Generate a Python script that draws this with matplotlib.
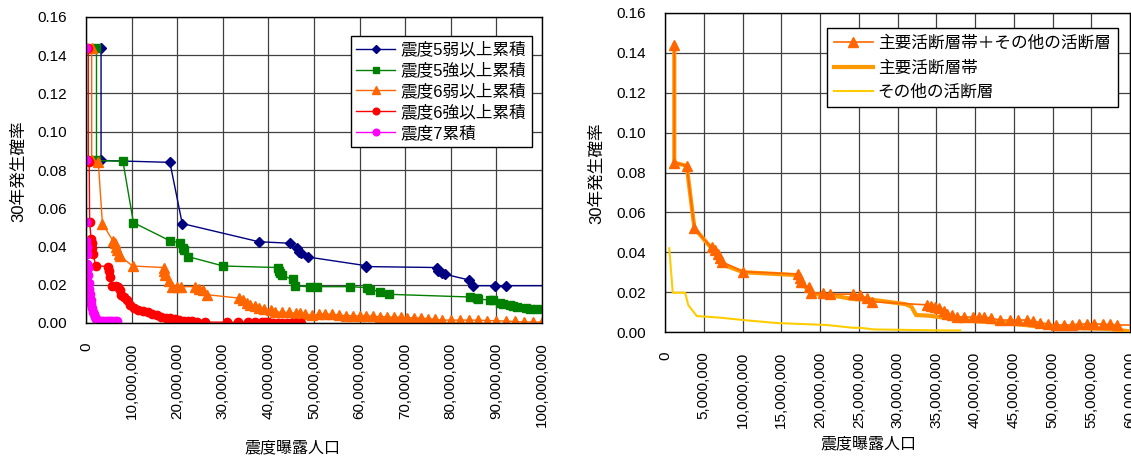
import matplotlib
matplotlib.use('Agg')
import matplotlib.pyplot as plt
from matplotlib.ticker import FuncFormatter, MultipleLocator
import numpy as np

plt.rcParams['font.family'] = ['Liberation Sans', 'Noto Sans CJK JP']

# ---- left chart: cumulative exposure by intensity (x in millions of people) ----
labels_left = ['震度5弱以上累積', '震度5強以上累積', '震度6弱以上累積', '震度6強以上累積', '震度7累積']

s5l_x = [3.3, 3.3, 18.4, 21.1, 37.9, 44.7, 46.3, 46.8, 47.2, 48.7, 61.3, 61.5, 77.0, 77.3, 78.0,
         78.7, 84.0, 84.8, 89.8, 92.0, 102.0]
s5l_y = [0.144, 0.085, 0.084, 0.052, 0.0425, 0.0417, 0.039, 0.037, 0.0365, 0.0345, 0.030, 0.0295,
         0.029, 0.027, 0.026, 0.0255, 0.0225, 0.0195, 0.0195, 0.0195, 0.0195]

s5h_x = [2.3, 2.3, 8.1, 10.4, 18.4, 20.6, 21.3, 21.6, 22.4, 30.1, 42.0, 42.3, 42.6, 42.9, 45.3,
         45.8, 49.1, 50.6, 57.9, 61.6, 62.3, 64.5, 66.4, 84.2, 85.7, 86.0, 88.6, 89.3, 90.8,
         91.5, 93.0, 93.7, 94.5, 96.6, 97.4, 98.8, 102.0]
s5h_y = [0.144, 0.085, 0.0845, 0.0525, 0.043, 0.042, 0.039, 0.038, 0.0347, 0.0298, 0.029, 0.027,
         0.026, 0.025, 0.0228, 0.0193, 0.019, 0.019, 0.019, 0.0185, 0.0175, 0.0164, 0.015,
         0.0136, 0.013, 0.0125, 0.012, 0.0118, 0.0103, 0.0100, 0.0094, 0.0090, 0.0085, 0.0077,
         0.0075, 0.0072, 0.0070]

s6l_x = [1.25, 1.25, 2.7, 3.6, 5.9, 6.3, 6.6, 6.9, 7.2, 7.5, 10.2, 17.1, 17.2, 17.4, 18.3, 18.8,
         20.0, 20.8, 24.0, 24.8, 25.6, 26.6, 33.6, 34.5, 35.3, 36.0, 37.0, 38.0, 39.0, 40.5,
         41.5, 43.0, 44.5, 46.0, 47.0, 48.0, 49.5, 51.0, 52.5, 54.0, 55.5, 57.0, 58.5, 60.0,
         61.5, 63.0, 64.5, 66.0, 67.5, 69.0, 70.5, 72.0, 73.5, 75.0, 76.5, 78.0, 80.0, 82.0,
         84.0, 86.0, 88.0, 90.0, 92.0, 94.0, 96.0, 98.0, 100.0]
s6l_y = [0.144, 0.085, 0.084, 0.052, 0.043, 0.042, 0.040, 0.038, 0.036, 0.035, 0.0298, 0.029,
         0.027, 0.025, 0.022, 0.019, 0.019, 0.019, 0.019, 0.018, 0.017, 0.0148, 0.013, 0.012,
         0.0105, 0.0095, 0.0088, 0.008, 0.0075, 0.007, 0.006, 0.0055, 0.0055, 0.005, 0.0052,
         0.0045, 0.0042, 0.0045, 0.0048, 0.0045, 0.0042, 0.0038, 0.0038, 0.0037, 0.0038,
         0.0035, 0.0033, 0.0032, 0.003, 0.003, 0.0028, 0.0027, 0.0026, 0.0022, 0.002, 0.0015,
         0.0015, 0.0015, 0.0015, 0.0015, 0.0013, 0.0012, 0.001, 0.0008, 0.0006, 0.0005, 0.0005]

s6h_x = [0.5, 0.5, 0.7, 0.8, 1.1, 1.3, 1.4, 1.6, 2.1, 4.8, 5.0, 5.2, 5.6, 6.5, 7.1, 7.4, 7.7, 8.3,
         9.0, 9.6, 10.5, 11.5, 12.5, 13.5, 14.5, 15.5, 16.5, 17.5, 18.5, 19.5, 20.5, 21.5, 22.4,
         23.3, 24.3, 26.1, 30.9, 33.3, 35.5, 37.1, 38.5, 39.3, 40.0, 41.0, 42.0, 43.0, 44.0,
         45.0, 46.0, 47.2]
s6h_y = [0.144, 0.085, 0.084, 0.053, 0.044, 0.042, 0.039, 0.036, 0.030, 0.0295, 0.027, 0.024,
         0.0195, 0.0195, 0.019, 0.017, 0.0145, 0.0135, 0.012, 0.0095, 0.008, 0.007, 0.0065,
         0.0055, 0.0048, 0.004, 0.0032, 0.0028, 0.0024, 0.002, 0.0016, 0.0012, 0.0009, 0.0008,
         0.0007, 0.0005, 0.0004, 0.0004, 0.0003, 0.0003, 0.0003, 0.0003, 0.0003, 0.0002,
         0.0002, 0.0002, 0.0002, 0.0002, 0.0002, 0.0002]

s7_x = [0.0, 0.0, 0.0, 0.1, 0.15, 0.2, 0.2, 0.35, 0.45, 0.6, 0.75, 0.9, 1.05, 1.2, 1.35, 1.5,
        1.7, 1.9, 2.1, 2.4, 2.8, 3.3, 3.8, 4.3, 4.8, 5.3, 5.8, 6.3, 6.8]
s7_y = [0.144, 0.085, 0.053, 0.043, 0.040, 0.036, 0.031, 0.029, 0.025, 0.021, 0.018, 0.015,
        0.012, 0.010, 0.008, 0.006, 0.0045, 0.003, 0.002, 0.0015, 0.001, 0.0009, 0.0008, 0.0008,
        0.0008, 0.0008, 0.0008, 0.0008, 0.0008]

# ---- right chart: fault contributions ----
labels_right = ['主要活断層帯＋その他の活断層', '主要活断層帯', 'その他の活断層']

all_x = [1.2, 1.2, 2.8, 3.8, 6.0, 6.5, 6.9, 7.1, 7.3, 10.1, 17.2, 17.4, 17.6, 18.6, 18.9, 20.4,
         21.3, 24.3, 25.2, 26.0, 26.7, 33.8, 34.3, 34.8, 35.4, 36.0, 36.4, 37.0, 37.7, 38.6,
         39.8, 40.5, 41.1, 42.0, 43.2, 44.5, 45.6, 46.7, 47.5, 48.4, 49.4, 50.5, 51.5, 52.5,
         53.4, 54.4, 55.4, 56.5, 57.4, 58.3, 61.0]
all_y = [0.144, 0.085, 0.0833, 0.052, 0.0424, 0.041, 0.039, 0.037, 0.0353, 0.0303, 0.029, 0.027,
         0.025, 0.0224, 0.0194, 0.0194, 0.019, 0.019, 0.0185, 0.017, 0.0152, 0.0136, 0.013,
         0.0125, 0.0118, 0.0105, 0.009, 0.0085, 0.0077, 0.0075, 0.0075, 0.0075, 0.0075, 0.007,
         0.006, 0.006, 0.006, 0.006, 0.0055, 0.0047, 0.004, 0.0035, 0.0035, 0.0035, 0.004,
         0.004, 0.004, 0.004, 0.0038, 0.0035, 0.0035]

main_x = [1.2, 1.2, 2.8, 3.8, 6.0, 6.6, 6.9, 7.3, 10.1, 17.2, 17.6, 18.6, 18.9, 21.3, 24.3, 26.5,
          31.0, 31.8, 32.4, 34.0, 36.4, 39.8, 44.0, 48.4, 53.0, 57.5, 60.0]
main_y = [0.144, 0.085, 0.0833, 0.052, 0.042, 0.039, 0.036, 0.034, 0.030, 0.0285, 0.024, 0.021,
          0.019, 0.0185, 0.0165, 0.0163, 0.014, 0.0127, 0.0085, 0.0082, 0.007, 0.0055, 0.0045,
          0.0027, 0.002, 0.0015, 0.0003]

other_x = [0.55, 1.0, 2.6, 3.0, 3.5, 4.1, 7.1, 10.1, 14.4, 20.9, 24.3, 25.2, 26.9, 35.5, 38.1]
other_y = [0.042, 0.0197, 0.0197, 0.0135, 0.011, 0.008, 0.0072, 0.006, 0.0045, 0.0035, 0.0021,
           0.0021, 0.0013, 0.0008, 0.0008]

M = 1e6
fmt = FuncFormatter(lambda v, p: f'{int(round(v)):,}')

fig = plt.figure(figsize=(11.31, 4.57), dpi=100)
ax1 = fig.add_axes([86 / 1131, 1 - 323 / 457, 456 / 1131, 306 / 457])
ax2 = fig.add_axes([665 / 1131, 1 - 332 / 457, 465 / 1131, 319 / 457])


def style_axes(ax, xmax, xstep):
    ax.set_xlim(0, xmax)
    ax.set_ylim(0, 0.16)
    ax.xaxis.set_major_locator(MultipleLocator(xstep))
    ax.yaxis.set_major_locator(MultipleLocator(0.02))
    ax.xaxis.set_major_formatter(fmt)
    ax.yaxis.set_major_formatter(FuncFormatter(lambda v, p: f'{v:.2f}'))
    ax.grid(True, color='#404040', linewidth=0.9)
    ax.set_axisbelow(True)
    ax.tick_params(axis='x', length=0, pad=14, labelsize=11, labelrotation=90)
    ax.tick_params(axis='y', length=0, pad=14, labelsize=11)
    for lab in ax.get_xticklabels():
        lab.set_va('top')
    for sp in ax.spines.values():
        sp.set_color('black')
        sp.set_linewidth(1.0)


# left chart
series_left = [
    (s5l_x, s5l_y, '#000080', 'D', 5),
    (s5h_x, s5h_y, '#008000', 's', 6),
    (s6l_x, s6l_y, '#FF6600', '^', 7),
    (s6h_x, s6h_y, '#FF0000', 'o', 6),
    (s7_x, s7_y, '#FF00FF', 'o', 6),
]
for (xs, ys, c, m, ms), lab in zip(series_left, labels_left):
    ax1.plot(np.array(xs) * M, ys, color=c, marker=m, markersize=ms, linewidth=1.0, label=lab)
style_axes(ax1, 100 * M, 10 * M)
leg1 = ax1.legend(loc='upper right', bbox_to_anchor=(0.978, 0.938), fontsize=12,
                  frameon=True, fancybox=False, edgecolor='black', framealpha=1,
                  borderpad=0.35, labelspacing=0.3, handlelength=2.3, handletextpad=0.35,
                  borderaxespad=0, markerscale=0.8)
leg1.get_frame().set_linewidth(1.0)

# right chart
l_all, = ax2.plot(np.array(all_x) * M, all_y, color='#FF6600', marker='^', markersize=6.5,
                  linewidth=1.2, label=labels_right[0], zorder=4)
l_main, = ax2.plot(np.array(main_x) * M, main_y, color='#FF9900', linewidth=3.0,
                   label=labels_right[1], zorder=3)
l_oth, = ax2.plot(np.array(other_x) * M, other_y, color='#FFCC00', linewidth=1.5,
                  label=labels_right[2], zorder=3)
style_axes(ax2, 60 * M, 5 * M)
leg2 = ax2.legend(handles=[l_all, l_main, l_oth], loc='upper right',
                  bbox_to_anchor=(0.974, 0.953), fontsize=12, frameon=True, fancybox=False,
                  edgecolor='black', framealpha=1, borderpad=0.45, labelspacing=0.55,
                  handlelength=2.3, handletextpad=0.3, borderaxespad=0)
leg2.get_frame().set_linewidth(1.0)

# axis titles placed like the original sheet
fig.text(18 / 1131, 1 - 171 / 457, '30年発生確率', rotation=90, ha='center', va='center', fontsize=12)
fig.text(596 / 1131, 1 - 173 / 457, '30年発生確率', rotation=90, ha='center', va='center', fontsize=12)
fig.text(292 / 1131, 1 - 448 / 457, '震度曝露人口', ha='center', va='center', fontsize=11.5)
fig.text(868 / 1131, 1 - 444 / 457, '震度曝露人口', ha='center', va='center', fontsize=11.5)

fig.savefig('out.png', dpi=100)
